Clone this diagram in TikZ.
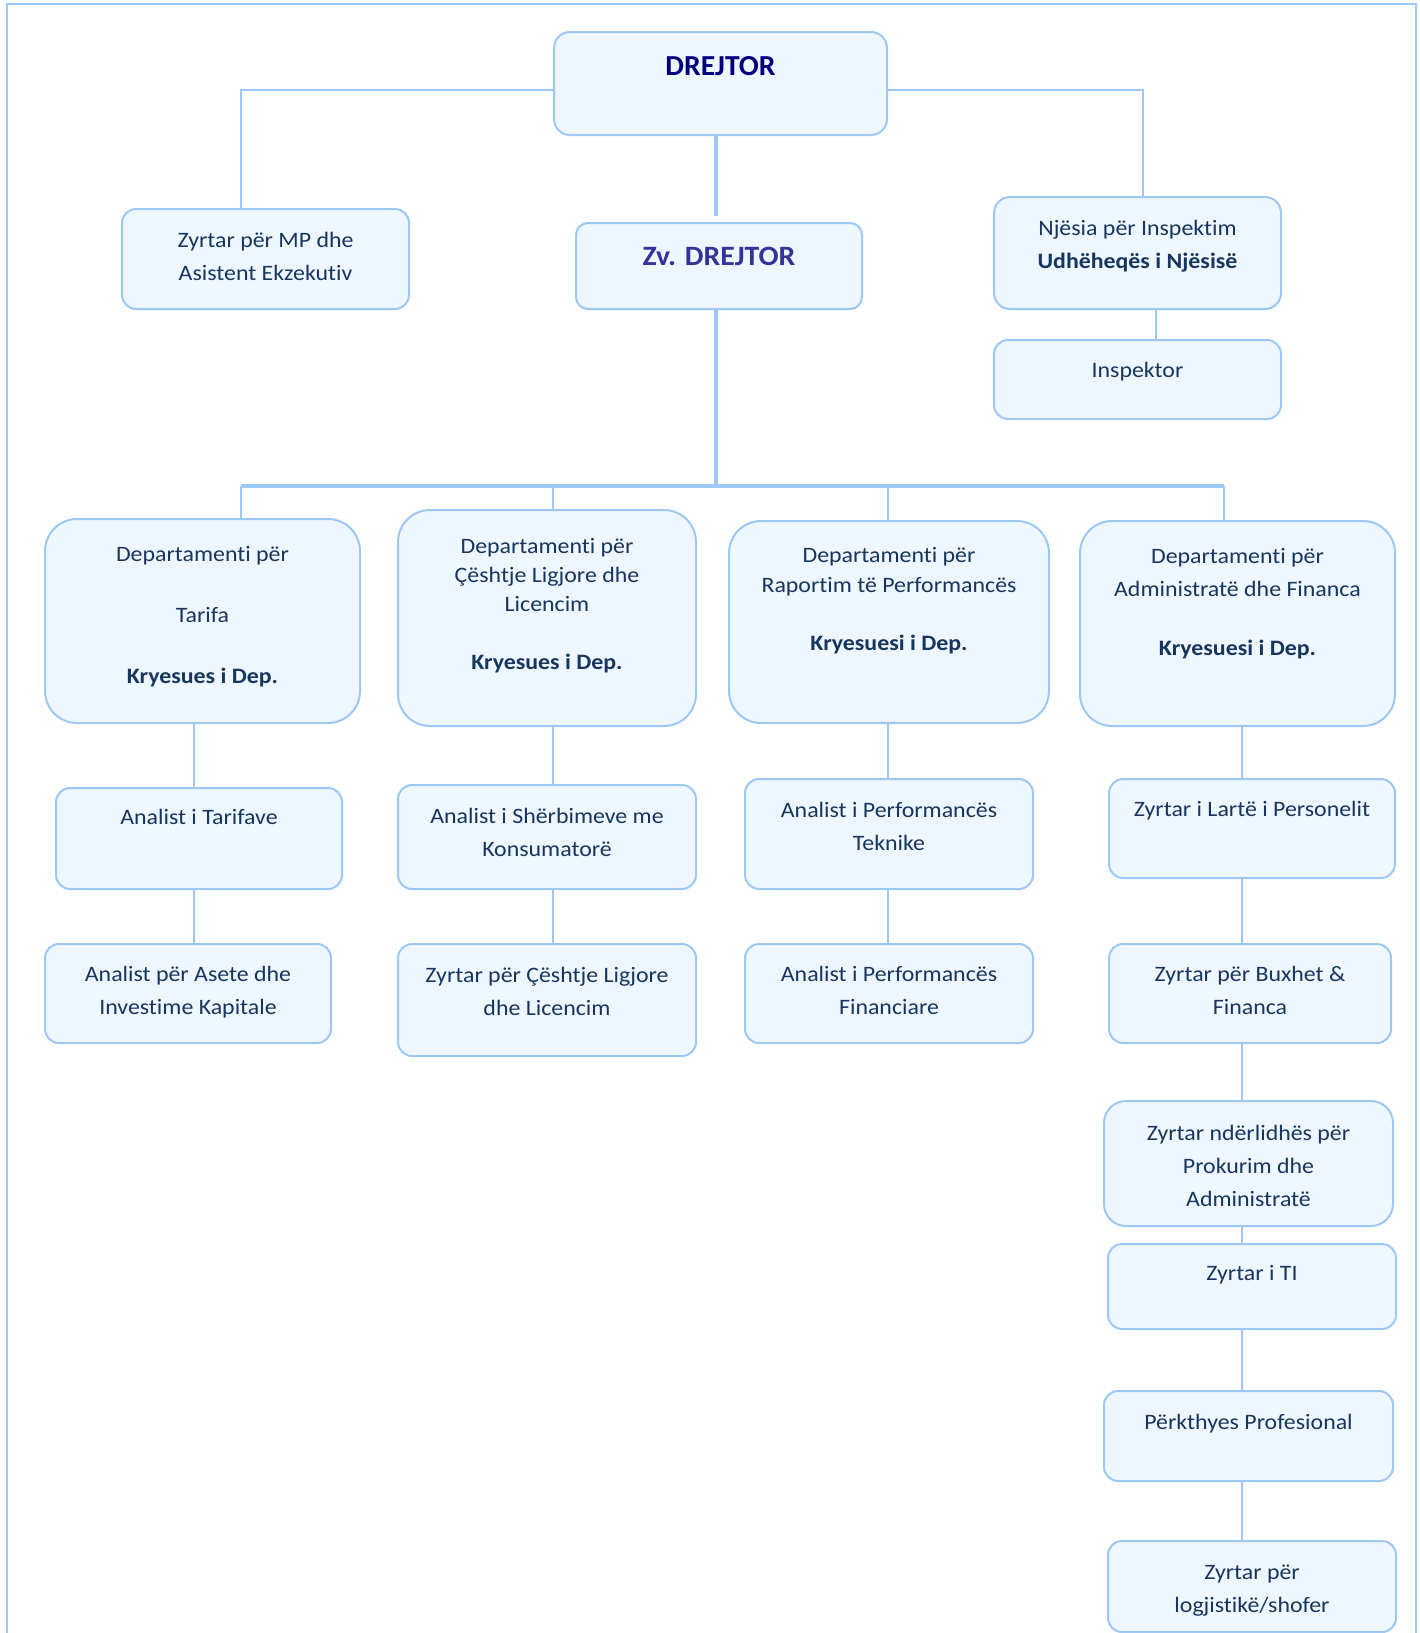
\documentclass[tikz,border=0pt]{standalone}
\usepackage{fontspec}
\setmainfont{Carlito}[FakeStretch=1.085, Ligatures=NoCommon]
\newfontfamily\dirfont{Carlito}[FakeStretch=1.02, Ligatures=NoCommon]
\newfontfamily\zvfont{Carlito}[FakeStretch=1.06, Ligatures=NoCommon]
\usetikzlibrary{calc}
\definecolor{edge}{HTML}{9DC8F4}
\definecolor{fillc}{HTML}{EEF6FF}
\definecolor{ink}{HTML}{17365D}
\definecolor{navyc}{HTML}{00007F}
\definecolor{slatec}{HTML}{333399}
\pgfdeclarelayer{bg}
\pgfsetlayers{bg,main}
\begin{document}
\begin{tikzpicture}[x=1pt,y=-1pt,
  box/.style={draw=edge, fill=fillc, line width=2pt, rounded corners=14pt, inner sep=0pt},
  dbox/.style={box, rounded corners=32pt},
  txt/.style={text=ink, font=\fontsize{22}{33}\selectfont, align=center, inner sep=0pt, anchor=north},
  conn/.style={draw=edge, line width=1.8pt},
  trunk/.style={draw=edge, line width=3.5pt},
  frame/.style={draw=edge, line width=2pt}]
\useasboundingbox (0,0) rectangle (1419,1633);
\draw[frame] (7,1660) -- (7,4) -- (1416,4) -- (1416,1660);

% boxes
\node[box, minimum width=333pt, minimum height=103pt, rounded corners=16pt] (dir) at (720.5,83.5) {};
\node[box, minimum width=287pt, minimum height=100pt] (mp) at (265.5,259) {};
\node[box, minimum width=286pt, minimum height=86pt, rounded corners=12pt] (zv) at (719,266) {};
\node[box, minimum width=287pt, minimum height=112pt, rounded corners=16pt] (nj) at (1137.5,253) {};
\node[box, minimum width=287pt, minimum height=79pt] (insp) at (1137.5,379.5) {};

\node[dbox, minimum width=315pt, minimum height=204pt] (dT) at (202.5,621) {};
\node[dbox, minimum width=298pt, minimum height=216pt] (dL) at (547,618) {};
\node[dbox, minimum width=320pt, minimum height=202pt] (dR) at (889,622) {};
\node[dbox, minimum width=315pt, minimum height=205pt] (dA) at (1237.5,623.5) {};

\node[box, minimum width=286pt, minimum height=101pt] (aT) at (199,838.5) {};
\node[box, minimum width=298pt, minimum height=104pt] (aS) at (547,837) {};
\node[box, minimum width=288pt, minimum height=110pt] (aP) at (889,834) {};
\node[box, minimum width=286pt, minimum height=99pt] (zL) at (1252,828.5) {};

\node[box, minimum width=286pt, minimum height=99pt] (aA) at (188,993.5) {};
\node[box, minimum width=298pt, minimum height=112pt] (zC) at (547,1000) {};
\node[box, minimum width=288pt, minimum height=99pt] (aF) at (889,993.5) {};
\node[box, minimum width=282pt, minimum height=99pt] (zB) at (1250,993.5) {};

\node[box, minimum width=289pt, minimum height=125pt, rounded corners=22pt] (zP) at (1248.5,1163.5) {};
\node[box, minimum width=288pt, minimum height=85pt] (zT) at (1252,1286.5) {};
\node[box, minimum width=289pt, minimum height=90pt] (pP) at (1248.5,1436) {};
\node[box, minimum width=288pt, minimum height=91pt] (zLg) at (1252,1586.5) {};

% texts
\node[anchor=base, inner sep=0pt, text=navyc, font=\dirfont\fontsize{29}{35}\selectfont\bfseries] (tdir) at (720.5,75) {DREJTOR};
\node[anchor=base, inner sep=0pt, text=slatec, font=\zvfont\fontsize{28}{34}\selectfont\bfseries] (tzv) at (719,265) {Zv. DREJTOR};
\node[txt] (tmp) at (265.5,224) {\strut Zyrtar për MP dhe\\Asistent Ekzekutiv};
\node[txt] (tnj) at (1137.5,212) {\strut Njësia për Inspektim\\\textbf{Udhëheqës i Njësisë}};
\node[txt] (tinsp) at (1137.5,354) {\strut Inspektor};

\node[txt, font=\fontsize{22}{30.5}\selectfont] (tdT) at (202.5,540) {\strut Departamenti për\\[30.5pt]Tarifa\\[30.5pt]\textbf{Kryesues i Dep.}};
\node[txt, font=\fontsize{22}{29}\selectfont] (tdL) at (547,533) {\strut Departamenti për\\Çështje Ligjore dhe\\Licencim\\[29pt]\textbf{Kryesues i Dep.}};
\node[txt, font=\fontsize{22}{30}\selectfont] (tdR) at (889,541) {\strut Departamenti për\\Raportim të Performancës\\[28pt]\textbf{Kryesuesi i Dep.}};
\node[txt, font=\fontsize{22}{33}\selectfont] (tdA) at (1237.5,540) {\strut Departamenti për\\Administratë dhe Financa\\[26pt]\textbf{Kryesuesi i Dep.}};

\node[txt] (taT) at (199,801) {\strut Analist i Tarifave};
\node[txt] (taS) at (547,800) {\strut Analist i Shërbimeve me\\Konsumatorë};
\node[txt] (taP) at (889,794) {\strut Analist i Performancës\\Teknike};
\node[txt] (tzL) at (1252,793) {\strut Zyrtar i Lartë i Personelit};

\node[txt] (taA) at (188,958) {\strut Analist për Asete dhe\\Investime Kapitale};
\node[txt] (tzC) at (547,959) {\strut Zyrtar për Çështje Ligjore\\dhe Licencim};
\node[txt] (taF) at (889,958) {\strut Analist i Performancës\\Financiare};
\node[txt] (tzB) at (1250,958) {\strut Zyrtar për Buxhet \&\\Financa};

\node[txt] (tzP) at (1248.5,1117) {\strut Zyrtar ndërlidhës për\\Prokurim dhe\\Administratë};
\node[txt] (tzT) at (1252,1257) {\strut Zyrtar i TI};
\node[txt] (tpP) at (1248.5,1406) {\strut Përkthyes Profesional};
\node[txt] (tzLg) at (1252,1556) {\strut Zyrtar për\\logjistikë/shofer};

% connector coordinates
\coordinate (jl) at (241,90);
\coordinate (jr) at (1143,90);
\coordinate (xZ) at (716,0);
\coordinate (zvtop) at (716,216);
\coordinate (busL) at (241,486);
\coordinate (busR) at (1224,486);
\coordinate (bL) at (553,486);
\coordinate (bR) at (888,486);
\coordinate (xT) at (194,0);
\coordinate (xL) at (553,0);
\coordinate (xR) at (888,0);
\coordinate (xA) at (1242,0);
\coordinate (xI) at (1156,0);

\begin{pgfonlayer}{bg}
\draw[conn] (dir.west |- jl) -- (jl) -- (jl |- mp.north);
\draw[conn] (dir.east |- jr) -- (jr) -- (jr |- nj.north);
\draw[trunk] (xZ |- dir.south) -- (zvtop);
\draw[trunk] (xZ |- zv.south) -- (xZ |- busL);
\draw[trunk] (busL) -- (busR);
\draw[conn] (xI |- nj.south) -- (xI |- insp.north);
\draw[conn] (busL) -- (busL |- dT.north);
\draw[conn] (bL) -- (bL |- dL.north);
\draw[conn] (bR) -- (bR |- dR.north);
\draw[conn] (busR) -- (busR |- dA.north);
\draw[conn] (xT |- dT.south) -- (xT |- aT.north);
\draw[conn] (xT |- aT.south) -- (xT |- aA.north);
\draw[conn] (xL |- dL.south) -- (xL |- aS.north);
\draw[conn] (xL |- aS.south) -- (xL |- zC.north);
\draw[conn] (xR |- dR.south) -- (xR |- aP.north);
\draw[conn] (xR |- aP.south) -- (xR |- aF.north);
\draw[conn] (xA |- dA.south) -- (xA |- zL.north);
\draw[conn] (xA |- zL.south) -- (xA |- zB.north);
\draw[conn] (xA |- zB.south) -- (xA |- zP.north);
\draw[conn] (xA |- zP.south) -- (xA |- zT.north);
\draw[conn] (xA |- zT.south) -- (xA |- pP.north);
\draw[conn] (xA |- pP.south) -- (xA |- zLg.north);
\end{pgfonlayer}
\end{tikzpicture}
\end{document}
